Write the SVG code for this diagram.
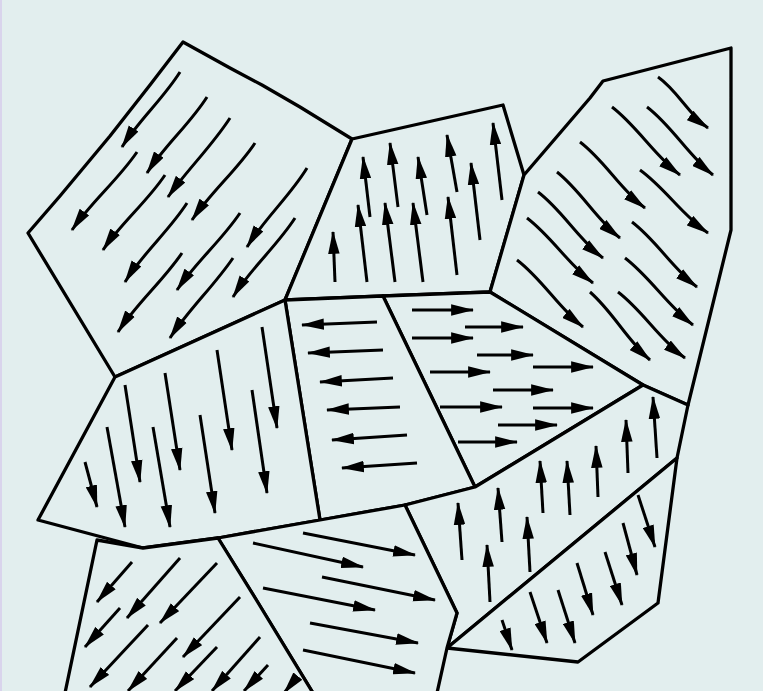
<svg xmlns="http://www.w3.org/2000/svg" width="763" height="691" viewBox="0 0 763 691">
<defs>
<marker id="ah" viewBox="0 0 20 10" refX="19" refY="5" markerWidth="23" markerHeight="12" markerUnits="userSpaceOnUse" orient="auto">
<path d="M0,0 L20,5 L0,10 Z" fill="#000"/>
</marker>
<style>
.g{fill:#e2eeee;stroke:#000;stroke-width:3.3;stroke-linejoin:round}
.a{fill:none;stroke:#000;stroke-width:3;marker-end:url(#ah)}
</style>
</defs>
<rect width="763" height="691" fill="#e2eeee"/>
<rect width="2" height="691" fill="#d9d4ec"/>

<g id="grainA">
<path class="g" d="M183,42 L230,68 L262,85 L300,107 L352,139 L285,300 L115,377 L28,233 L60,196 L110,136 L150,85 Z"/>
<path class="a" d="M180,72 C163,99 139,120 122,147"/>
<path class="a" d="M207,97 C190,124 165,145 147,173"/>
<path class="a" d="M230,118 C212,146 187,170 168,197"/>
<path class="a" d="M255,143 C237,170 211,192 192,220"/>
<path class="a" d="M307,168 C290,196 265,218 247,247"/>
<path class="a" d="M295,218 C277,246 251,268 233,297"/>
<path class="a" d="M137,152 C118,180 92,201 72,230"/>
<path class="a" d="M165,175 C147,202 121,223 103,250"/>
<path class="a" d="M187,203 C169,231 143,253 125,282"/>
<path class="a" d="M240,213 C222,240 196,262 177,290"/>
<path class="a" d="M182,253 C163,281 137,303 118,332"/>
<path class="a" d="M233,258 C214,286 189,309 170,338"/>
</g>

<g id="grainB">
<path class="g" d="M352,139 L503,105 L524,175 L490,292 L383,296 L285,300 Z"/>
<path class="a" d="M335,282 L333,232"/>
<path class="a" d="M367,282 L358,205"/>
<path class="a" d="M395,282 L385,203"/>
<path class="a" d="M423,282 L413,203"/>
<path class="a" d="M457,275 L448,197"/>
<path class="a" d="M370,217 L363,157"/>
<path class="a" d="M398,207 L390,143"/>
<path class="a" d="M427,215 L418,157"/>
<path class="a" d="M457,192 L447,135"/>
<path class="a" d="M480,240 L471,163"/>
<path class="a" d="M502,200 L493,123"/>
</g>

<g id="grainC">
<path class="g" d="M524,175 L590,98 L603,81 L731,48 L731,230 L688,405 L643,385 L490,292 Z"/>
<path class="a" d="M658,77 C678,91 688,114 708,128"/>
<path class="a" d="M612,107 C637,126 654,155 680,175"/>
<path class="a" d="M647,107 C672,126 688,155 713,175"/>
<path class="a" d="M580,142 C605,161 620,189 645,208"/>
<path class="a" d="M640,170 C665,188 682,215 708,233"/>
<path class="a" d="M557,172 C581,191 596,219 620,238"/>
<path class="a" d="M538,192 C563,211 578,239 603,258"/>
<path class="a" d="M632,222 C657,241 672,268 697,287"/>
<path class="a" d="M527,218 C552,237 568,264 593,283"/>
<path class="a" d="M625,258 C650,277 667,305 693,325"/>
<path class="a" d="M517,260 C542,279 558,307 583,327"/>
<path class="a" d="M590,292 C613,312 627,340 650,360"/>
<path class="a" d="M618,292 C643,311 659,339 685,358"/>
</g>

<g id="grainD">
<path class="g" d="M383,296 L490,292 L643,385 L475,487 Z"/>
<path class="a" d="M412,310 L473,310"/>
<path class="a" d="M465,327 L523,327"/>
<path class="a" d="M412,338 L473,338"/>
<path class="a" d="M477,355 L533,355"/>
<path class="a" d="M533,367 L593,367"/>
<path class="a" d="M430,372 L490,372"/>
<path class="a" d="M493,390 L553,390"/>
<path class="a" d="M440,407 L502,407"/>
<path class="a" d="M533,408 L593,408"/>
<path class="a" d="M498,425 L557,425"/>
<path class="a" d="M458,442 L517,442"/>
</g>

<g id="grainG">
<path class="g" d="M285,300 L383,296 L475,487 L405,505 L320,520 Z"/>
<path class="a" d="M377,322 L302,325"/>
<path class="a" d="M383,350 L308,353"/>
<path class="a" d="M393,378 L320,382"/>
<path class="a" d="M400,407 L327,410"/>
<path class="a" d="M407,435 L332,440"/>
<path class="a" d="M417,463 L342,468"/>
</g>

<g id="grainF">
<path class="g" d="M115,377 L285,300 L320,520 L218,538 L143,548 L38,520 Z"/>
<path class="a" d="M125,385 L140,482"/>
<path class="a" d="M165,373 L180,470"/>
<path class="a" d="M217,350 L232,450"/>
<path class="a" d="M262,327 L277,428"/>
<path class="a" d="M85,462 L97,507"/>
<path class="a" d="M107,427 L125,527"/>
<path class="a" d="M153,427 L170,527"/>
<path class="a" d="M200,415 L215,513"/>
<path class="a" d="M252,390 L267,493"/>
</g>

<g id="grainE">
<path class="g" d="M405,505 L475,487 L643,385 L688,405 L677,458 L447,648 L457,613 Z"/>
<path class="a" d="M462,560 L458,503"/>
<path class="a" d="M490,602 L487,545"/>
<path class="a" d="M502,542 L498,488"/>
<path class="a" d="M530,572 L527,517"/>
<path class="a" d="M543,513 L540,461"/>
<path class="a" d="M570,515 L567,461"/>
<path class="a" d="M598,497 L596,446"/>
<path class="a" d="M628,473 L626,420"/>
<path class="a" d="M657,458 L653,397"/>
</g>

<g id="grainH">
<path class="g" d="M677,458 L658,603 L578,662 L447,648 Z"/>
<path class="a" d="M638,495 L655,547"/>
<path class="a" d="M623,523 L637,575"/>
<path class="a" d="M605,552 L622,605"/>
<path class="a" d="M577,563 L593,615"/>
<path class="a" d="M558,590 L575,643"/>
<path class="a" d="M530,592 L547,643"/>
<path class="a" d="M502,620 L512,650"/>
</g>

<g id="grainI">
<path class="g" d="M218,538 L320,520 L405,505 L457,613 L447,648 L437,693 L313,693 L257,601 Z"/>
<path class="a" d="M303,533 L415,555"/>
<path class="a" d="M253,543 L363,567"/>
<path class="a" d="M322,577 L435,600"/>
<path class="a" d="M263,588 L375,610"/>
<path class="a" d="M310,623 L418,643"/>
<path class="a" d="M303,650 L415,673"/>
</g>

<g id="grainJ">
<path class="g" d="M97,540 L143,548 L218,538 L257,601 L313,693 L65,693 Z"/>
<path class="a" d="M132,562 L97,602"/>
<path class="a" d="M180,558 L127,618"/>
<path class="a" d="M217,563 L160,623"/>
<path class="a" d="M120,608 L85,647"/>
<path class="a" d="M148,625 L90,687"/>
<path class="a" d="M240,597 L183,657"/>
<path class="a" d="M177,638 L128,691"/>
<path class="a" d="M217,647 L175,691"/>
<path class="a" d="M260,637 L212,691"/>
<path class="a" d="M268,665 L244,691"/>
<path class="a" d="M293,682 L284,693"/>
</g>
</svg>
